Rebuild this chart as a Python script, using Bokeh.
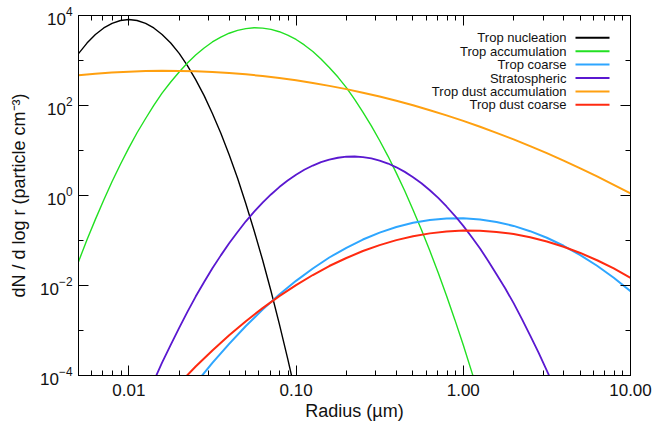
import numpy as np
from bokeh.plotting import figure
from bokeh.models import (Range1d, FixedTicker, LogAxis, PrintfTickFormatter,
                          CustomJSTickFormatter, Label, BoxAnnotation, ColumnDataSource)
from bokeh.embed import file_html
from bokeh.resources import INLINE

NAN = float("nan")

# ---- data ----
nucleation_radius = [0.005, 0.00562, 0.00631, 0.00708, 0.00794, 0.00891, 0.01, 0.0112, 0.0126,
                     0.0141, 0.0158, 0.0178, 0.02, 0.0224, 0.0251, 0.0282, 0.0316, 0.0355,
                     0.0398, 0.0447, 0.0501, 0.0562, 0.0631, 0.0708, 0.0794, 0.0891, 0.1]
trop_nucleation = [1420, 2440, 3770, 5280, 6710, 7750, 8130, 7750, 6710,
                   5280, 3770, 2440, 1440, 771, 375, 166, 66.4, 24.2,
                   8.02, 2.41, 0.658, 0.163, 0.0368, 7.54e-3, 1.40e-3, 2.37e-4, 3.63e-5]

accumulation_radius = [0.005, 0.00562, 0.00631, 0.00708, 0.00794, 0.00891, 0.01, 0.0112, 0.0126,
                       0.0141, 0.0158, 0.0178, 0.02, 0.0224, 0.0251, 0.0282, 0.0316, 0.0355,
                       0.0398, 0.0447, 0.0501, 0.0562, 0.0631, 0.0708, 0.0794, 0.0891, 0.1,
                       0.112, 0.126, 0.141, 0.158, 0.178, 0.2, 0.224, 0.251, 0.282,
                       0.316, 0.355, 0.398, 0.447, 0.501, 0.562, 0.631, 0.708, 0.794,
                       0.891, 1.0, 1.12, 1.26]
trop_accumulation = [0.0338, 0.104, 0.295, 0.796, 2.04, 4.94, 11.4, 24.8, 51.4,
                     101, 188, 332, 556, 883, 1330, 1900, 2580, 3310,
                     4040, 4670, 5120, 5325, 5250, 4913, 4360, 3667, 2930,
                     2216, 1590, 1083, 699, 428, 249, 137, 71.5, 35.4,
                     16.7, 7.43, 3.14, 1.258, 0.478, 0.1725, 0.059, 0.0191, 5.89e-3,
                     1.72e-3, 4.75e-4, 1.25e-4, 3.1e-5]

strat_radius = [0.0126, 0.0141, 0.0158, 0.0178, 0.02, 0.0224, 0.0251, 0.0282, 0.0316, 0.0355,
                0.0398, 0.0447, 0.0501, 0.0562, 0.0631, 0.0708, 0.0794, 0.0891, 0.1, 0.112,
                0.126, 0.141, 0.158, 0.178, 0.2, 0.224, 0.251, 0.282, 0.316, 0.355,
                0.398, 0.447, 0.501, 0.562, 0.631, 0.708, 0.794, 0.891, 1.0, 1.12,
                1.26, 1.41, 1.58, 1.78, 2.0, 2.24, 2.51, 2.82, 3.16, 3.55, 3.98]
stratospheric = [2.8e-5, 7.5e-5, 1.94e-4, 4.79e-4, 1.14e-3, 2.60e-3, 5.68e-3, 0.01195, 0.0241, 0.0467,
                 0.0869, 0.155, 0.267, 0.439, 0.694, 1.054, 1.54, 2.15, 2.89, 3.73,
                 4.63, 5.51, 6.29, 6.90, 7.27, 7.36, 7.14, 6.66, 5.96, 5.13,
                 4.23, 3.35, 2.55, 1.865, 1.31, 0.882, 0.570, 0.354, 0.211, 0.121,
                 0.0665, 0.0351, 0.0178, 8.66e-3, 4.05e-3, 1.82e-3, 7.82e-4, 3.24e-4, 1.29e-4, 4.9e-5, 1.8e-5]

radius = [0.005, 0.0063, 0.0079, 0.01, 0.0126, 0.0158, 0.02, 0.0251, 0.0316, 0.0398,
          0.0501, 0.0631, 0.0794, 0.1, 0.126, 0.158, 0.2, 0.251, 0.316, 0.398,
          0.501, 0.631, 0.794, 1.0, 1.26, 1.58, 2.0, 2.51, 3.16, 3.98,
          5.01, 6.31, 7.94, 10.0]

trop_coarse = [NAN, NAN, NAN, NAN, NAN, NAN, NAN, 6.7e-5, 1.90e-4, 5.06e-4,
               1.26e-3, 2.91e-3, 6.29e-3, 0.0127, 0.0239, 0.0419, 0.0686, 0.105, 0.150, 0.199,
               0.247, 0.286, 0.309, 0.312, 0.293, 0.258, 0.211, 0.161, 0.115, 0.0764,
               0.0475, 0.0275, 0.0149, 7.49e-3]

trop_dust_accumulation = [468, 506, 539, 564, 581, 589, 587, 575, 555, 527,
                          492, 452, 408, 363, 317, 273, 231, 192, 158, 127,
                          101, 78.5, 60.3, 45.5, 33.8, 24.7, 17.7, 12.5, 8.72, 5.97,
                          4.02, 2.66, 1.73, 1.11]

trop_dust_coarse = [NAN, NAN, NAN, NAN, NAN, NAN, 6.6e-5, 1.58e-4, 3.61e-4, 7.82e-4,
                    1.61e-3, 3.14e-3, 5.82e-3, 0.0102, 0.0171, 0.0271, 0.0408, 0.0583, 0.0790, 0.102,
                    0.124, 0.144, 0.159, 0.166, 0.165, 0.155, 0.139, 0.118, 0.0951, 0.0728,
                    0.0529, 0.0364, 0.0239, 0.0148]

series_names = ["Trop nucleation", "Trop accumulation", "Trop coarse",
                "Stratospheric", "Trop dust accumulation", "Trop dust coarse"]
series_x = [nucleation_radius, accumulation_radius, radius, strat_radius, radius, radius]
series_values = [trop_nucleation, trop_accumulation, trop_coarse,
                 stratospheric, trop_dust_accumulation, trop_dust_coarse]
series_colors = ["#000000", "#22e022", "#2ea6ff", "#5a18d0", "#ffa010", "#ff2a10"]
series_widths = [1.4, 1.4, 2.0, 1.8, 2.0, 2.0]

x_major = [0.01, 0.1, 1.0, 10.0]
x_minor = [0.005, 0.006, 0.007, 0.008, 0.009,
           0.02, 0.03, 0.04, 0.05, 0.06, 0.07, 0.08, 0.09,
           0.2, 0.3, 0.4, 0.5, 0.6, 0.7, 0.8, 0.9,
           2, 3, 4, 5, 6, 7, 8, 9]
y_major = [1e-4, 1e-2, 1e0, 1e2, 1e4]
y_minor = [1e-3, 1e-1, 1e1, 1e3]

FONT = "Liberation Sans"

p = figure(width=655, height=423, x_axis_type="log", y_axis_type="log",
           x_range=Range1d(0.005, 10), y_range=Range1d(1e-4, 1e4),
           output_backend="svg", toolbar_location=None,
           min_border_left=78, min_border_right=25, min_border_top=15,
           min_border_bottom=48)
p.xgrid.visible = False
p.ygrid.visible = False
p.outline_line_color = "black"
p.outline_line_width = 1
p.background_fill_color = "white"
p.border_fill_color = "white"

for name, xs, vals, col, lw in zip(series_names, series_x, series_values,
                                   series_colors, series_widths):
    src = ColumnDataSource(dict(x=np.array(xs, dtype=float), y=np.array(vals, dtype=float)))
    p.line("x", "y", source=src, line_color=col, line_width=lw)


def style_axis(ax, labels=True):
    ax.major_tick_in = 10
    ax.major_tick_out = 0
    ax.minor_tick_in = 5
    ax.minor_tick_out = 0
    ax.axis_line_color = "black"
    ax.major_tick_line_color = "black"
    ax.minor_tick_line_color = "black"
    if labels:
        ax.major_label_text_font = FONT
        ax.major_label_text_font_size = "17px"
        ax.major_label_text_color = "#111111"
        ax.axis_label_text_font = FONT
        ax.axis_label_text_font_size = "18px"
        ax.axis_label_text_font_style = "normal"
        ax.axis_label_text_color = "#111111"
    else:
        ax.formatter = CustomJSTickFormatter(code="return ''")
        ax.major_label_text_font_size = "8px"
        ax.major_label_standoff = 0


xa = p.xaxis[0]
xa.ticker = FixedTicker(ticks=x_major, minor_ticks=x_minor)
xa.formatter = PrintfTickFormatter(format="%.2f")
xa.axis_label = "Radius (\u00b5m)"
style_axis(xa)
xa.major_label_standoff = 8
xa.axis_label_standoff = 2

ya = p.yaxis[0]
ya.ticker = FixedTicker(ticks=y_major, minor_ticks=y_minor)
ya.axis_label = "dN / d log r (particle cm\u207b\u00b3)"
style_axis(ya)
ya.major_label_standoff = 6
ya.axis_label_standoff = 8

top = LogAxis(ticker=FixedTicker(ticks=x_major, minor_ticks=x_minor))
style_axis(top, labels=False)
p.add_layout(top, "above")
right = LogAxis(ticker=FixedTicker(ticks=y_major, minor_ticks=y_minor))
style_axis(right, labels=False)
p.add_layout(right, "right")

# legend: right-aligned labels with line samples to their right
row0 = 337.7
step = 13.4
for i, (name, col) in enumerate(zip(series_names, series_colors)):
    yy = row0 - i * step
    p.add_layout(Label(x=488, y=yy, x_units="screen", y_units="screen", text=name,
                       text_align="right", text_baseline="middle",
                       text_font=FONT, text_font_size="13px", text_color="#111111"))
    p.add_layout(BoxAnnotation(left=497, right=531, bottom=yy - 1, top=yy + 1,
                               left_units="screen", right_units="screen",
                               bottom_units="screen", top_units="screen",
                               fill_color=col, fill_alpha=1.0, line_alpha=0))

open("out.html", "w").write(file_html(p, INLINE))
